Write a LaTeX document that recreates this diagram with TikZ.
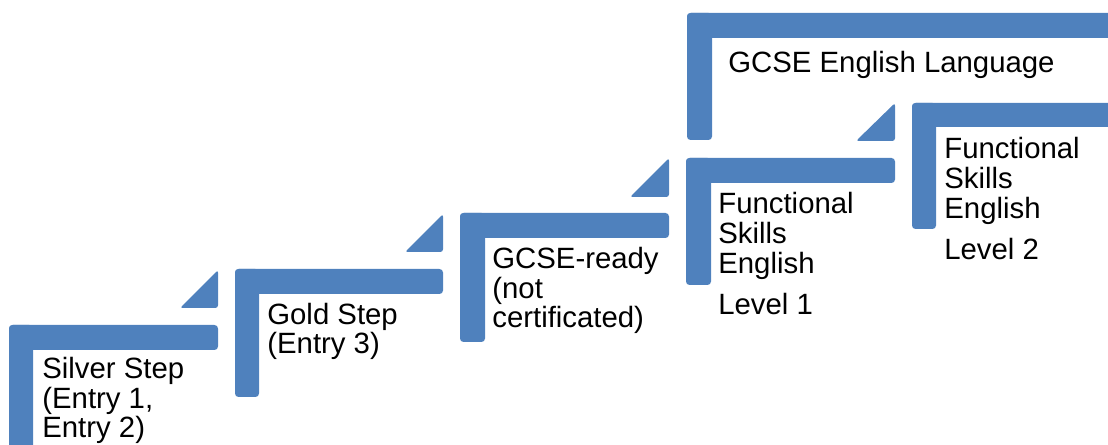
\documentclass[tikz,border=0pt]{standalone}
\usepackage{fontspec}
\setmainfont{Liberation Sans}
\definecolor{stepblue}{RGB}{79,129,189}

\begin{document}
\begin{tikzpicture}[
  x=0.02cm, y=-0.02cm,
  bar/.style={fill=stepblue, rounded corners=2pt},
  tri/.style={fill=stepblue, rounded corners=1.5pt},
  lbl/.style={font=\fontsize{16.7pt}{17pt}\selectfont, align=left,
              anchor=base west, inner sep=0pt}
]

\useasboundingbox (0,0) rectangle (1108,445);

% labels are placed by the baseline of their last line

% --- Silver Step ---
\fill[bar] (9,325) rectangle (218,350);
\fill[bar] (9,325) rectangle (33,453);
\fill[tri] (180,308) -- (218,308) -- (218,270) -- cycle;
\node[lbl] (silver) at (42,438) {Silver Step\\(Entry 1,\\Entry 2)};

% --- Gold Step ---
\fill[bar] (235,269) rectangle (443,294);
\fill[bar] (235,269) rectangle (259,397);
\fill[tri] (405,252) -- (443,252) -- (443,214) -- cycle;
\node[lbl] (gold) at (267,354) {Gold Step\\(Entry 3)};

% --- GCSE-ready ---
\fill[bar] (460,213) rectangle (669,238);
\fill[bar] (460,213) rectangle (485,342);
\fill[tri] (630,197) -- (669,197) -- (669,158) -- cycle;
\node[lbl] (ready) at (492,328) {GCSE-ready\\(not\\certificated)};

% --- Functional Skills, Level 1 ---
\fill[bar] (686,158) rectangle (895,183);
\fill[bar] (686,158) rectangle (711,285);
\fill[tri] (856,141) -- (895,141) -- (895,103) -- cycle;
\node[lbl] (level1) at (718,315) {Functional\\Skills\\English\\[0.24cm]Level 1};

% --- Functional Skills, Level 2 ---
\fill[bar] (912,103) rectangle (1120,127);
\fill[bar] (912,103) rectangle (936,229);
\node[lbl] (level2) at (944,260) {Functional\\Skills\\English\\[0.24cm]Level 2};

% --- GCSE English Language ---
\fill[bar] (687,13) rectangle (1120,38);
\fill[bar] (687,13) rectangle (712,140);
\node[lbl] (gcse) at (728,73) {GCSE English Language};

\end{tikzpicture}
\end{document}
